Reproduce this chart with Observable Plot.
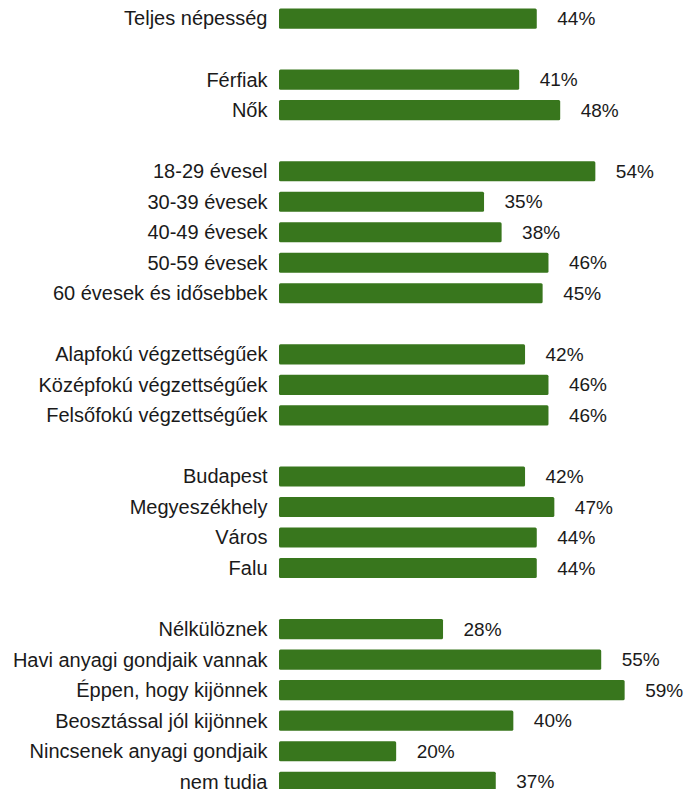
<!DOCTYPE html>
<html>
<head>
<meta charset="utf-8">
<script src="https://cdn.jsdelivr.net/npm/d3@7"></script>
<script src="https://cdn.jsdelivr.net/npm/@observablehq/plot@0.6"></script>
<style>
  html, body { margin: 0; padding: 0; background: #fff; }
  #chart svg { display: block; }
</style>
</head>
<body>
<div id="chart"></div>
<script>
const categories = [
  "Teljes népesség",
  "Férfiak", "Nők",
  "18-29 évesel", "30-39 évesek", "40-49 évesek", "50-59 évesek", "60 évesek és idősebbek",
  "Alapfokú végzettségűek", "Középfokú végzettségűek", "Felsőfokú végzettségűek",
  "Budapest", "Megyeszékhely", "Város", "Falu",
  "Nélkülöznek", "Havi anyagi gondjaik vannak", "Éppen, hogy kijönnek",
  "Beosztással jól kijönnek", "Nincsenek anyagi gondjaik", "nem tudja"
];
const values = [44, 41, 48, 54, 35, 38, 46, 45, 42, 46, 46, 42, 47, 44, 44, 28, 55, 59, 40, 20, 37];
// a blank row is inserted after each of these category indices
const groupEnds = [0, 2, 7, 10, 14];

// build row keys (with blank spacer rows between groups)
const rows = [];
const data = [];
categories.forEach((c, i) => {
  const key = "r" + rows.length;
  rows.push({key, label: c});
  data.push({key, label: c, value: values[i]});
  if (groupEnds.includes(i)) rows.push({key: "r" + rows.length, label: ""});
});
const labelOf = new Map(rows.map(r => [r.key, r.label]));

const step = 30.53;
const marginTop = 3.3;
const height = Math.round(marginTop + step * rows.length);
const font = "'Liberation Sans', Arial, sans-serif";

const chart = Plot.plot({
  width: 685,
  height,
  marginTop,
  marginBottom: 0,
  marginLeft: 279,
  marginRight: 54.5,
  style: {fontFamily: font, fontSize: "19px", color: "#1a1a1a", background: "#fff"},
  x: {domain: [0, 60], axis: null},
  y: {domain: rows.map(r => r.key), padding: 0, round: false, label: null},
  marks: [
    Plot.barX(data, {
      x: "value", y: "key", fill: "#38761d", insetTop: 5.2, insetBottom: 5.2, rx: 1.5
    }),
    Plot.text(data, {
      x: "value", y: "key", text: d => d.value + "%", textAnchor: "start", dx: 20,
      fontSize: 19, fill: "#1a1a1a", stroke: "white", strokeWidth: 2
    }),
    Plot.axisY({
      tickSize: 0, tickPadding: 12, tickFormat: k => labelOf.get(k), fontSize: 20, label: null
    })
  ]
});
document.getElementById("chart").appendChild(chart);
</script>
</body>
</html>
